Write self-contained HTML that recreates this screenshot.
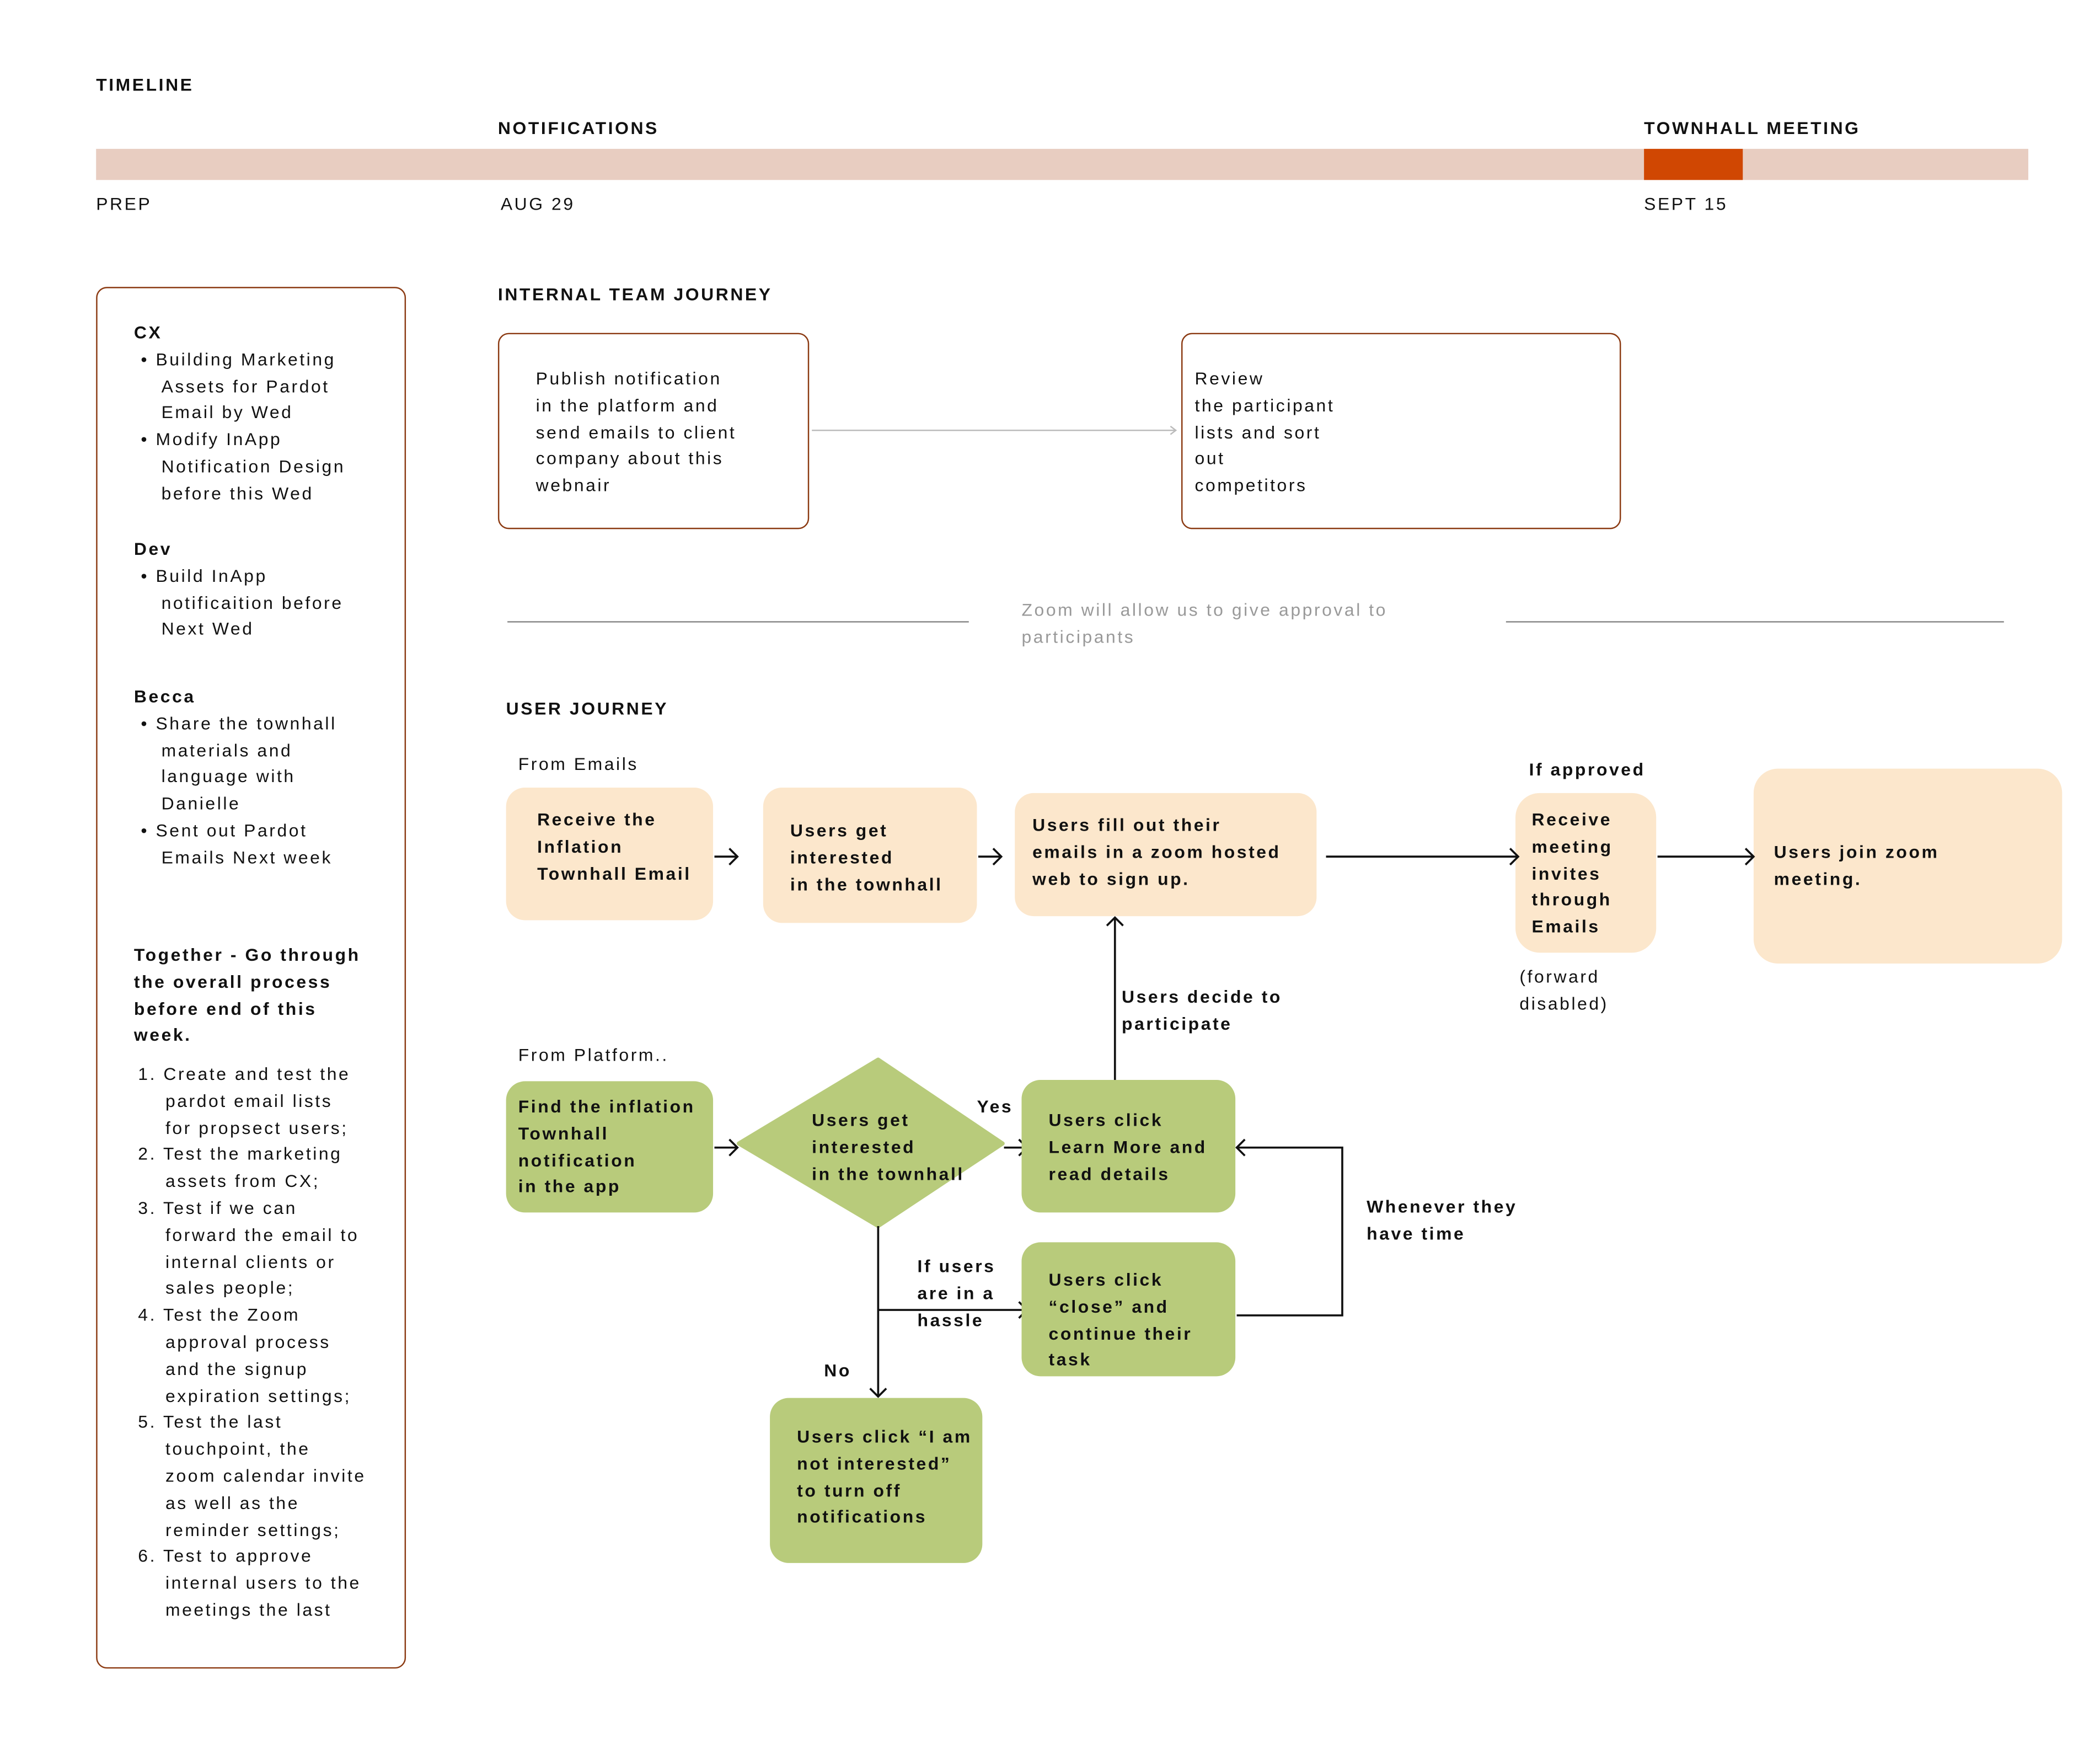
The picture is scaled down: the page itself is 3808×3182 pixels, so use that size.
<!DOCTYPE html>
<html><head><meta charset="utf-8">
<style>
html,body{margin:0;padding:0;background:#fff;}
body{width:3808px;height:3182px;overflow:hidden;position:relative;}
#w{position:absolute;left:0;top:0;width:1552px;height:1297px;transform:scale(2.45361);transform-origin:0 0;font-family:"Liberation Sans",sans-serif;color:#111;}
.t{position:absolute;font-size:13px;line-height:19.8px;letter-spacing:1.45px;white-space:nowrap;}
.b{font-weight:bold;}
.g{color:#999;}
.box{position:absolute;border-radius:14px;}
.pe{background:#fce7cc;}
.gr{background:#b8cb7b;}
.ob{position:absolute;border:1px solid #8b3a12;border-radius:8px;background:#fff;}
ul,ol{margin:0;padding:0;}
</style></head><body><div id="w">
<div class="t b" style="left:71px;top:53px">TIMELINE</div>
<div class="t b" style="left:368px;top:85px">NOTIFICATIONS</div>
<div class="t b" style="left:1215px;top:85px">TOWNHALL MEETING</div>
<div style="position:absolute;left:71px;top:110px;width:1428px;height:23px;background:#e8cdc1"></div>
<div style="position:absolute;left:1215px;top:110px;width:73px;height:23px;background:#d04702"></div>
<div class="t" style="left:71px;top:141px">PREP</div>
<div class="t" style="left:370px;top:141px">AUG 29</div>
<div class="t" style="left:1215px;top:141px">SEPT 15</div>

<div class="ob" style="left:71px;top:212px;width:227px;height:1019px"></div>
<div class="t" style="left:99px;top:236px">
<span class="b">CX</span><br>
&nbsp;• Building Marketing<br>&nbsp;&nbsp;&nbsp;&nbsp;Assets for Pardot<br>&nbsp;&nbsp;&nbsp;&nbsp;Email by Wed<br>
&nbsp;• Modify InApp<br>&nbsp;&nbsp;&nbsp;&nbsp;Notification Design<br>&nbsp;&nbsp;&nbsp;&nbsp;before this Wed</div>
<div class="t" style="left:99px;top:396px"><span class="b">Dev</span><br>
&nbsp;• Build InApp<br>&nbsp;&nbsp;&nbsp;&nbsp;notificaition before<br>&nbsp;&nbsp;&nbsp;&nbsp;Next Wed</div>
<div class="t" style="left:99px;top:505px"><span class="b">Becca</span><br>
&nbsp;• Share the townhall<br>&nbsp;&nbsp;&nbsp;&nbsp;materials and<br>&nbsp;&nbsp;&nbsp;&nbsp;language with<br>&nbsp;&nbsp;&nbsp;&nbsp;Danielle<br>
&nbsp;• Sent out Pardot<br>&nbsp;&nbsp;&nbsp;&nbsp;Emails Next week</div>
<div class="t b" style="left:99px;top:696px">Together - Go through<br>the overall process<br>before end of this<br>week.</div>
<div class="t" style="left:102px;top:784px">1. Create and test the<br>&nbsp;&nbsp;&nbsp;&nbsp;pardot email lists<br>&nbsp;&nbsp;&nbsp;&nbsp;for propsect users;<br>
2. Test the marketing<br>&nbsp;&nbsp;&nbsp;&nbsp;assets from CX;<br>
3. Test if we can<br>&nbsp;&nbsp;&nbsp;&nbsp;forward the email to<br>&nbsp;&nbsp;&nbsp;&nbsp;internal clients or<br>&nbsp;&nbsp;&nbsp;&nbsp;sales people;<br>
4. Test the Zoom<br>&nbsp;&nbsp;&nbsp;&nbsp;approval process<br>&nbsp;&nbsp;&nbsp;&nbsp;and the signup<br>&nbsp;&nbsp;&nbsp;&nbsp;expiration settings;<br>
5. Test the last<br>&nbsp;&nbsp;&nbsp;&nbsp;touchpoint, the<br>&nbsp;&nbsp;&nbsp;&nbsp;zoom calendar invite<br>&nbsp;&nbsp;&nbsp;&nbsp;as well as the<br>&nbsp;&nbsp;&nbsp;&nbsp;reminder settings;<br>
6. Test to approve<br>&nbsp;&nbsp;&nbsp;&nbsp;internal users to the<br>&nbsp;&nbsp;&nbsp;&nbsp;meetings the last</div>

<div class="t b" style="left:368px;top:208px">INTERNAL TEAM JOURNEY</div>
<div class="ob" style="left:368px;top:246px;width:228px;height:143px"></div>
<div class="t" style="left:396px;top:270px">Publish notification<br>in the platform and<br>send emails to client<br>company about this<br>webnair</div>
<div class="ob" style="left:873px;top:246px;width:323px;height:143px"></div>
<div class="t" style="left:883px;top:270px">Review<br>the participant<br>lists and sort<br>out<br>competitors</div>

<div style="position:absolute;left:375px;top:459px;width:341px;height:1px;background:#888"></div>
<div style="position:absolute;left:1113px;top:459px;width:368px;height:1px;background:#888"></div>
<div class="t g" style="left:755px;top:441px">Zoom will allow us to give approval to<br>participants</div>

<div class="t b" style="left:374px;top:514px">USER JOURNEY</div>
<div class="t" style="left:383px;top:555px">From Emails</div>
<div class="box pe" style="left:374px;top:582px;width:153px;height:98px"></div>
<div class="t b" style="left:397px;top:596px">Receive the<br>Inflation<br>Townhall Email</div>
<div class="box pe" style="left:564px;top:582px;width:158px;height:100px"></div>
<div class="t b" style="left:584px;top:604px">Users get<br>interested<br>in the townhall</div>
<div class="box pe" style="left:750px;top:586px;width:223px;height:91px"></div>
<div class="t b" style="left:763px;top:600px">Users fill out their<br>emails in a zoom hosted<br>web to sign up.</div>
<div class="t b" style="left:1130px;top:559px">If approved</div>
<div class="box pe" style="left:1120px;top:586px;width:104px;height:118px;border-radius:18px"></div>
<div class="t b" style="left:1132px;top:596px">Receive<br>meeting<br>invites<br>through<br>Emails</div>
<div class="box pe" style="left:1296px;top:568px;width:228px;height:144px;border-radius:18px"></div>
<div class="t b" style="left:1311px;top:620px">Users join zoom<br>meeting.</div>
<div class="t" style="left:1123px;top:712px">(forward<br>disabled)</div>
<div class="t b" style="left:829px;top:727px">Users decide to<br>participate</div>

<div class="t" style="left:383px;top:770px">From Platform..</div>
<div class="box gr" style="left:374px;top:799px;width:153px;height:97px"></div>
<div class="t b" style="left:383px;top:808px">Find the inflation<br>Townhall<br>notification<br>in the app</div>
<svg style="position:absolute;left:0;top:0" width="1552" height="1297">
<polygon points="649,783 741,845 649,906 546,845" fill="#b8cb7b" stroke="#b8cb7b" stroke-width="3" stroke-linejoin="round"/>
<g stroke="#111" stroke-width="1.5" fill="none">
<line x1="600" y1="318" x2="869" y2="318" stroke="#bbb" stroke-width="1"/>
<polyline points="865,315 869,318 865,321" stroke="#bbb" stroke-width="1"/>
<line x1="528" y1="633" x2="545" y2="633"/><polyline points="539,627 545,633 539,639"/>
<line x1="723" y1="633" x2="740" y2="633"/><polyline points="734,627 740,633 734,639"/>
<line x1="980" y1="633" x2="1122" y2="633"/><polyline points="1116,627 1122,633 1116,639"/>
<line x1="1225" y1="633" x2="1296" y2="633"/><polyline points="1290,627 1296,633 1290,639"/>
<line x1="824" y1="798" x2="824" y2="678"/><polyline points="818,684 824,678 830,684"/>
<line x1="528" y1="848" x2="545" y2="848"/><polyline points="539,842 545,848 539,854"/>
<line x1="742" y1="848" x2="759" y2="848"/><polyline points="753,842 759,848 753,854"/>
<polyline points="914,972 992,972 992,848 914,848"/><polyline points="920,842 914,848 920,854"/>
<line x1="649" y1="906" x2="649" y2="1032"/><polyline points="643,1026 649,1032 655,1026"/>
<line x1="649" y1="968" x2="759" y2="968"/><polyline points="753,962 759,968 753,974"/>
</g></svg>
<div class="t b" style="left:600px;top:818px">Users get<br>interested<br>in the townhall</div>
<div class="t b" style="left:722px;top:808px">Yes</div>
<div class="box gr" style="left:755px;top:798px;width:158px;height:98px"></div>
<div class="t b" style="left:775px;top:818px">Users click<br>Learn More and<br>read details</div>
<div class="box gr" style="left:755px;top:918px;width:158px;height:99px"></div>
<div class="t b" style="left:775px;top:936px">Users click<br>“close” and<br>continue their<br>task</div>
<div class="t b" style="left:1010px;top:882px">Whenever they<br>have time</div>
<div class="t b" style="left:678px;top:926px">If users<br>are in a<br>hassle</div>
<div class="t b" style="left:609px;top:1003px">No</div>
<div class="box gr" style="left:569px;top:1033px;width:157px;height:122px"></div>
<div class="t b" style="left:589px;top:1052px">Users click “I am<br>not interested”<br>to turn off<br>notifications</div>
</div></body></html>
